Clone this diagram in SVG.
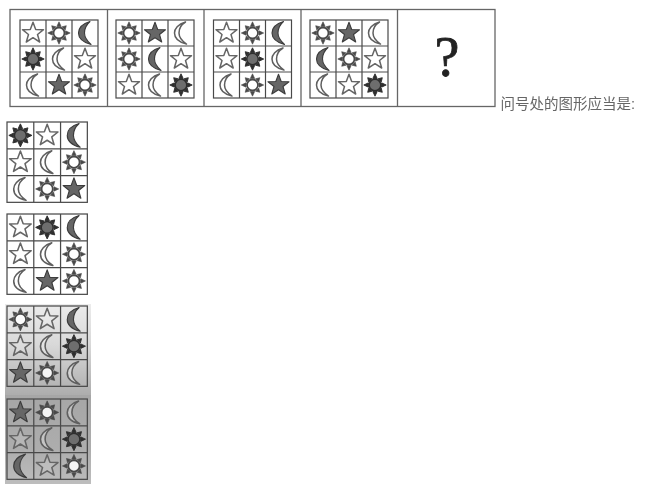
<svg xmlns="http://www.w3.org/2000/svg" width="648" height="488" viewBox="0 0 648 488">
<style>
.ln{fill:none;stroke:#4a4a4a;stroke-width:1.2}
.fr{fill:none;stroke:#666;stroke-width:1.3}
.w{fill:#fff;fill-opacity:.12;stroke:#666;stroke-width:1.5;stroke-linejoin:round}
.mw{fill:#fff;fill-opacity:.3;stroke:#5e5e5e;stroke-width:1.5;stroke-linejoin:round}
.d{fill:#666;stroke:#3c3c3c;stroke-width:1.1;stroke-linejoin:round}
.us{fill:#4a4a4a}
.ud{fill:#2e2e2e}
.t{font-family:"Liberation Sans","Noto Sans CJK SC",sans-serif;font-size:14.500px;fill:#666}
.q{font-family:"Liberation Serif",serif;font-size:56px;fill:#222;stroke:#222;stroke-width:.8;text-anchor:middle}
</style>
<defs>
<filter id="b" x="-5%" y="-5%" width="110%" height="110%"><feGaussianBlur stdDeviation="0.5"/></filter>
<linearGradient id="gc" x1="0" y1="0" x2="0" y2="1"><stop offset="0" stop-color="#ececec"/><stop offset=".45" stop-color="#d8d8d8"/><stop offset="1" stop-color="#adadad"/></linearGradient>
<linearGradient id="gd" x1="0" y1="0" x2="0" y2="1"><stop offset="0" stop-color="#a6a6a6"/><stop offset=".6" stop-color="#adadad"/><stop offset="1" stop-color="#bdbdbd"/></linearGradient>
<path id="rays" d="M-2.200-6.500L0-11.200 2.200-6.500ZM3-6.200L7.300-7.300 6.200-3ZM6.500-2.200L11.200 0 6.500 2.200ZM6.200 3L7.300 7.300 3 6.200ZM2.200 6.500L0 11.200-2.200 6.500ZM-3 6.200L-7.300 7.300-6.200 3ZM-6.500 2.200L-11.200 0-6.500-2.200ZM-6.200-3L-7.300-7.300-3-6.200Z"/>
<g id="S"><path class="w" d="M0-10.800L2.700-3.500 10.500-3.300 4.500 1.500 6.700 9 0 4.700-6.700 9-4.500 1.500-10.500-3.300-2.700-3.500Z"/></g>
<g id="K"><path class="d" d="M0-10.800L2.700-3.500 10.500-3.300 4.500 1.500 6.700 9 0 4.700-6.700 9-4.500 1.500-10.500-3.300-2.700-3.500Z"/></g>
<g id="U"><use href="#rays" class="us" stroke="#4a4a4a" stroke-width=".6"/><circle r="5.500" fill="#fff" fill-opacity=".85" stroke="#4a4a4a" stroke-width="1.800"/></g>
<g id="D"><use href="#rays" class="ud" stroke="#2e2e2e" stroke-width=".9"/><circle r="5.800" fill="#6e6e6e" stroke="#2e2e2e" stroke-width="1.500"/></g>
<path id="C" class="mw" d="M4.500-11C-3-9-6.500-4-6.500 0-6.500 5-3 9 5.500 11-.5 7-2 4-2 0-2-4-.5-8 4.500-11Z"/>
<path id="M" class="d" d="M5-11.500C-3.500-9-6.500-4-6.500 0-6.500 5-3 9 6 11.500 1 7-.5 4-.5 0-.5-4 1-8 5-11.500Z"/>
<g id="grid"><rect class="ln" width="78" height="78"/><path class="ln" d="M26 0V78M52 0V78M0 26H78M0 52H78"/></g>
</defs>
<rect width="648" height="488" fill="#fff"/>
<g filter="url(#b)">
<rect x="5" y="304" width="86" height="91" fill="url(#gc)"/>
<rect x="5" y="395" width="86" height="89" fill="url(#gd)"/>

<g id="sequence-frame"><rect class="fr" x="10" y="9.500" width="485" height="97"/><path class="fr" d="M107.500 9.500V106.500M204 9.500V106.500M301 9.500V106.500M397.500 9.500V106.500"/></g>

<g id="panel-1" transform="translate(20 20)"><use href="#grid"/>
<use href="#S" x="13" y="13"/><use href="#U" x="39" y="13"/><use href="#M" x="65" y="13"/>
<use href="#D" x="13" y="39"/><use href="#C" x="39" y="39"/><use href="#S" x="65" y="39"/>
<use href="#C" x="13" y="65"/><use href="#K" x="39" y="65"/><use href="#U" x="65" y="65"/></g>

<g id="panel-2" transform="translate(116 20)"><use href="#grid"/>
<use href="#U" x="13" y="13"/><use href="#K" x="39" y="13"/><use href="#C" x="65" y="13"/>
<use href="#U" x="13" y="39"/><use href="#M" x="39" y="39"/><use href="#S" x="65" y="39"/>
<use href="#S" x="13" y="65"/><use href="#C" x="39" y="65"/><use href="#D" x="65" y="65"/></g>

<g id="panel-3" transform="translate(213.500 20)"><use href="#grid"/>
<use href="#S" x="13" y="13"/><use href="#U" x="39" y="13"/><use href="#M" x="65" y="13"/>
<use href="#S" x="13" y="39"/><use href="#D" x="39" y="39"/><use href="#C" x="65" y="39"/>
<use href="#C" x="13" y="65"/><use href="#U" x="39" y="65"/><use href="#K" x="65" y="65"/></g>

<g id="panel-4" transform="translate(310 20)"><use href="#grid"/>
<use href="#U" x="13" y="13"/><use href="#K" x="39" y="13"/><use href="#C" x="65" y="13"/>
<use href="#M" x="13" y="39"/><use href="#U" x="39" y="39"/><use href="#S" x="65" y="39"/>
<use href="#C" x="13" y="65"/><use href="#S" x="39" y="65"/><use href="#D" x="65" y="65"/></g>

<g id="panel-5"><text class="q" x="447" y="76">?</text></g>
<g id="caption"><text class="t" x="500.500" y="109">问号处的图形应当是:</text></g>

<g id="option-a" transform="translate(7 122) scale(1.03)"><use href="#grid"/>
<use href="#D" x="13" y="13"/><use href="#S" x="39" y="13"/><use href="#M" x="65" y="13"/>
<use href="#S" x="13" y="39"/><use href="#C" x="39" y="39"/><use href="#U" x="65" y="39"/>
<use href="#C" x="13" y="65"/><use href="#U" x="39" y="65"/><use href="#K" x="65" y="65"/></g>

<g id="option-b" transform="translate(7 214) scale(1.03)"><use href="#grid"/>
<use href="#S" x="13" y="13"/><use href="#D" x="39" y="13"/><use href="#M" x="65" y="13"/>
<use href="#S" x="13" y="39"/><use href="#C" x="39" y="39"/><use href="#U" x="65" y="39"/>
<use href="#C" x="13" y="65"/><use href="#K" x="39" y="65"/><use href="#U" x="65" y="65"/></g>

<g id="option-c" transform="translate(7 306) scale(1.03)"><use href="#grid"/>
<use href="#U" x="13" y="13"/><use href="#S" x="39" y="13"/><use href="#M" x="65" y="13"/>
<use href="#S" x="13" y="39"/><use href="#C" x="39" y="39"/><use href="#D" x="65" y="39"/>
<use href="#K" x="13" y="65"/><use href="#U" x="39" y="65"/><use href="#C" x="65" y="65"/></g>

<g id="option-d" transform="translate(7 399) scale(1.03)"><use href="#grid"/>
<use href="#K" x="13" y="13"/><use href="#U" x="39" y="13"/><use href="#C" x="65" y="13"/>
<use href="#S" x="13" y="39"/><use href="#C" x="39" y="39"/><use href="#D" x="65" y="39"/>
<use href="#M" x="13" y="65"/><use href="#S" x="39" y="65"/><use href="#U" x="65" y="65"/></g>
</g>
</svg>
